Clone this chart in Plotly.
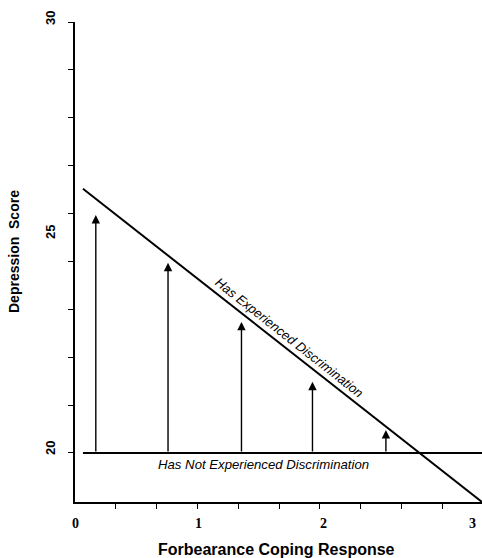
import plotly.graph_objects as go

# Data
arrow_x = [0.17, 0.76, 1.36, 1.94, 2.54]
arrow_base = [20, 20, 20, 20, 20]
arrow_tip = [25.52, 24.41, 23.04, 21.65, 20.53]

exp_x = [0.065, 3.325]
exp_y = [26.13, 18.86]
notexp_x = [0.065, 3.325]
notexp_y = [20, 20]

x_tickvals = [1/3, 2/3, 1, 4/3, 5/3, 2, 7/3, 8/3, 3]
y_tickvals = [20, 21.111, 22.222, 23.333, 24.444, 25.556, 26.667, 27.778, 28.889, 30]
x_labels = ["0", "1", "2", "3"]
x_label_pos = [0.0, 1.01, 2.03, 3.25]
y_labels = ["30", "25", "20"]
y_label_pos = [1.0083, 0.5625, 0.1125]  # paper fraction

fig = go.Figure()
fig.add_trace(go.Scatter(x=exp_x, y=exp_y, mode="lines",
                         line=dict(color="black", width=2), cliponaxis=False,
                         showlegend=False, hoverinfo="skip"))
fig.add_trace(go.Scatter(x=notexp_x, y=notexp_y, mode="lines",
                         line=dict(color="black", width=2), cliponaxis=False,
                         showlegend=False, hoverinfo="skip"))

annotations = []
for x, b, t in zip(arrow_x, arrow_base, arrow_tip):
    annotations.append(dict(x=x, y=t, ax=x, ay=b, xref="x", yref="y",
                            axref="x", ayref="y", text="", showarrow=True,
                            arrowhead=2, arrowsize=1.2, arrowwidth=1.4,
                            arrowcolor="black", standoff=0, startstandoff=0))

for lab, pos in zip(x_labels, x_label_pos):
    annotations.append(dict(x=pos, y=-0.044, xref="x", yref="paper", text="<b>" + lab + "</b>",
                            showarrow=False, xanchor="center", yanchor="middle",
                            font=dict(family="Liberation Serif", size=14, color="black")))
for lab, pos in zip(y_labels, y_label_pos):
    annotations.append(dict(x=-0.0614, y=pos, xref="paper", yref="paper", text="<b>" + lab + "</b>",
                            showarrow=False, textangle=-90, xanchor="center", yanchor="middle",
                            font=dict(family="Liberation Sans", size=13, color="black")))

annotations.append(dict(x=1.748, y=22.67, xref="x", yref="y",
                        text="<i>Has Experienced Discrimination</i>", showarrow=False,
                        textangle=38.3, font=dict(family="Liberation Sans", size=13, color="black")))
annotations.append(dict(x=1.544, y=19.72, xref="x", yref="y",
                        text="<i>Has Not Experienced Discrimination</i>", showarrow=False,
                        font=dict(family="Liberation Sans", size=13.2, color="black")))
annotations.append(dict(x=(276 - 75) / 407, y=(502 - 549) / 480, xref="paper", yref="paper",
                        text="<b>Forbearance Coping Response</b>", showarrow=False,
                        xanchor="center", yanchor="middle",
                        font=dict(family="Liberation Sans", size=16, color="black")))
annotations.append(dict(x=(14 - 75) / 407, y=(502 - 252) / 480, xref="paper", yref="paper",
                        text="<b>Depression  Score</b>", showarrow=False, textangle=-90,
                        xanchor="center", yanchor="middle",
                        font=dict(family="Liberation Sans", size=14, color="black")))

fig.update_layout(
    width=482, height=558,
    margin=dict(l=75, r=0, t=22, b=56),
    paper_bgcolor="white", plot_bgcolor="white",
    showlegend=False,
    annotations=annotations,
    xaxis=dict(range=[0, 3.325], showgrid=False, zeroline=False, showline=True,
               linecolor="black", linewidth=1.5, ticks="outside", ticklen=5,
               tickwidth=1.2, tickcolor="black", tickvals=x_tickvals,
               showticklabels=False, fixedrange=True),
    yaxis=dict(range=[18.86, 30], showgrid=False, zeroline=False, showline=True,
               linecolor="black", linewidth=1.5, ticks="outside", ticklen=5,
               tickwidth=1.2, tickcolor="black", tickvals=y_tickvals,
               showticklabels=False, fixedrange=True),
)

fig.write_html("out.html", config={"displayModeBar": False},
               post_script="document.body.style.margin='0';document.body.style.overflow='hidden';")
